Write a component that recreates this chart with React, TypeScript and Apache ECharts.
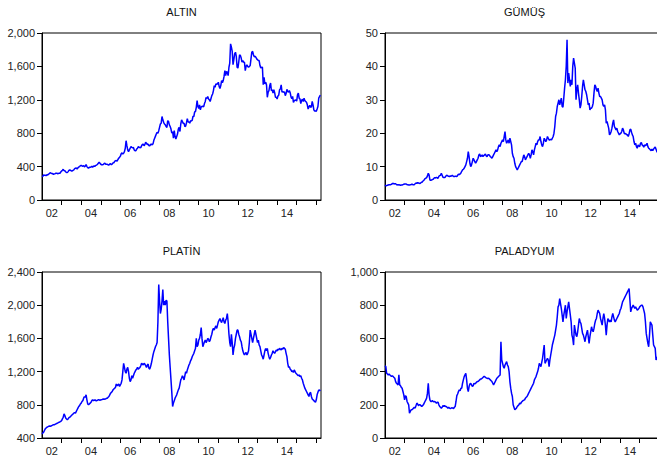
import React, { useEffect, useRef } from "react";
import * as echarts from "echarts";

const START_YEAR = 2002;
const OBS_PER_YEAR = 24;

const ALTIN = [
  279, 284, 299, 297, 296, 292, 302, 300, 310, 316, 326, 321, 316, 318, 305, 313, 315, 320, 322, 315, 318, 320, 320, 335,
  346, 356, 368, 352, 350, 336, 330, 328, 340, 356, 362, 355, 348, 348, 355, 360, 375, 380, 385, 372, 385, 395, 400, 410,
  415, 408, 405, 412, 398, 405, 425, 400, 388, 380, 393, 392, 395, 405, 392, 405, 408, 405, 415, 418, 428, 440, 452, 440,
  428, 422, 422, 425, 435, 442, 428, 428, 428, 420, 420, 432, 435, 422, 432, 445, 445, 462, 470, 472, 465, 485, 500, 512,
  525, 555, 565, 550, 560, 580, 620, 710, 650, 600, 580, 600, 620, 640, 630, 625, 630, 600, 590, 590, 610, 620, 640, 630,
  630, 625, 650, 665, 670, 650, 665, 690, 680, 665, 670, 650, 650, 665, 670, 660, 672, 715, 740, 765, 790, 810, 800, 830,
  870, 910, 920, 1000, 960, 930, 910, 900, 880, 870, 950, 940, 900, 880, 850, 800, 820, 740, 830, 760, 730, 760, 790, 850,
  870, 820, 910, 960, 940, 915, 920, 880, 885, 925, 975, 935, 935, 920, 950, 945, 955, 1005, 1000, 1055, 1060, 1110, 1190, 1120,
  1095, 1140, 1080, 1115, 1120, 1125, 1115, 1155, 1180, 1230, 1215, 1240, 1210, 1200, 1180, 1215, 1250, 1270, 1310, 1370, 1350, 1390, 1385, 1390,
  1410, 1360, 1335, 1370, 1430, 1405, 1430, 1480, 1550, 1490, 1540, 1530, 1490, 1590, 1640, 1870, 1830, 1780, 1620, 1680, 1750, 1770, 1720, 1590,
  1580, 1650, 1740, 1730, 1700, 1650, 1670, 1650, 1650, 1550, 1600, 1620, 1600, 1590, 1600, 1610, 1690, 1770, 1780, 1740, 1715, 1720, 1710, 1690,
  1680, 1670, 1670, 1610, 1580, 1590, 1590, 1380, 1470, 1390, 1410, 1380, 1230, 1290, 1310, 1370, 1400, 1310, 1320, 1280, 1320, 1285, 1230, 1230,
  1210, 1245, 1255, 1320, 1330, 1380, 1290, 1300, 1290, 1295, 1250, 1275, 1325, 1300, 1290, 1310, 1285, 1235, 1215, 1240, 1170, 1190, 1195, 1200,
  1185, 1260, 1280, 1220, 1210, 1155, 1195, 1205, 1180, 1220, 1190, 1180, 1170, 1140, 1090, 1115, 1135, 1110, 1115, 1180, 1140, 1080, 1065, 1065,
  1062, 1090, 1120, 1220, 1240, 1255,
];

const GUMUS = [
  4.5, 4.3, 4.3, 4.4, 4.5, 4.6, 4.6, 4.6, 4.7, 4.9, 5.0, 4.8, 4.9, 4.9, 4.6, 4.6, 4.5, 4.6, 4.5, 4.4, 4.5, 4.5, 4.6, 4.7,
  4.8, 4.8, 4.8, 4.6, 4.6, 4.5, 4.5, 4.6, 4.6, 4.8, 4.6, 4.6, 4.6, 4.9, 5.1, 5.0, 5.2, 5.1, 5.0, 4.9, 5.2, 5.3, 5.5, 5.8,
  6.0, 6.4, 6.5, 6.7, 7.2, 8.0, 7.5, 6.0, 5.9, 6.0, 6.1, 6.2, 6.5, 6.7, 6.6, 6.8, 6.6, 6.5, 7.1, 7.3, 7.4, 8.0, 7.4, 6.8,
  6.7, 6.7, 6.9, 7.3, 7.4, 7.2, 7.1, 7.0, 7.2, 7.1, 7.3, 7.3, 7.0, 7.0, 7.1, 7.1, 7.0, 7.4, 7.7, 7.6, 7.8, 8.1, 8.6, 9.0,
  9.2, 9.5, 10.0, 10.5, 11.5, 12.5, 14.5, 13.0, 11.0, 10.0, 10.5, 11.5, 12.5, 12.0, 11.5, 11.0, 11.5, 12.0, 12.5, 13.5, 13.8, 13.0, 13.2, 13.5,
  13.0, 13.3, 13.5, 13.8, 13.2, 13.0, 13.5, 13.6, 13.3, 13.0, 12.8, 12.5, 13.0, 13.5, 14.0, 14.5, 15.0, 14.5, 15.0, 16.0, 16.5, 16.0, 17.0, 17.5,
  18.0, 17.5, 19.0, 20.5, 18.0, 17.0, 17.5, 18.0, 17.0, 18.5, 17.5, 16.5, 14.0, 13.0, 12.5, 11.0, 10.0, 9.5, 9.0, 9.5, 10.0, 10.5, 11.0, 11.5,
  11.5, 12.5, 13.5, 13.0, 12.0, 12.5, 13.0, 13.5, 14.0, 13.5, 12.5, 13.5, 15.0, 14.5, 13.5, 15.0, 16.0, 17.0, 16.5, 17.5, 18.0, 18.0, 19.0, 17.5,
  16.5, 16.0, 17.0, 18.5, 18.0, 17.5, 18.0, 19.0, 18.5, 18.0, 18.0, 18.2, 18.0, 18.5, 19.0, 20.0, 22.0, 25.0, 26.0, 28.0, 29.0, 30.0, 28.5, 29.5,
  30.5, 28.0, 27.8, 30.5, 33.5, 36.0, 40.0, 48.0, 35.0, 38.0, 36.0, 34.0, 36.0, 34.5, 40.0, 42.5, 41.0, 39.5, 30.0, 33.0, 34.5, 32.0, 30.0, 27.5,
  28.5, 31.0, 34.0, 36.0, 34.5, 33.0, 32.5, 31.5, 30.0, 28.5, 29.0, 27.0, 27.5, 27.5, 28.0, 29.0, 32.0, 34.5, 34.0, 33.0, 32.5, 33.5, 32.0, 31.0,
  31.0, 30.5, 30.0, 28.5, 28.0, 28.5, 27.0, 23.0, 23.5, 22.5, 21.5, 19.5, 19.8, 20.5, 21.5, 23.0, 24.0, 22.0, 21.5, 21.0, 21.5, 20.5, 20.0, 19.5,
  19.8, 20.0, 20.5, 21.5, 21.0, 20.0, 19.8, 19.9, 19.5, 19.5, 19.0, 19.8, 21.0, 21.2, 20.3, 19.5, 19.0, 17.5, 16.5, 17.0, 16.0, 15.5, 16.5, 16.2,
  16.0, 17.0, 17.2, 16.5, 16.3, 15.8, 16.5, 16.3, 16.5, 17.0, 16.0, 15.5, 15.3, 15.0, 14.8, 15.2, 14.8, 15.2, 15.6, 15.9, 15.2, 14.5, 14.2, 14.0,
  14.0, 14.2, 14.4, 15.3, 15.2, 15.6,
];

const PLATIN = [
  450, 460, 470, 490, 510, 520, 530, 535, 540, 545, 540, 545, 550, 555, 560, 560, 565, 570, 575, 580, 585, 590, 595, 600,
  610, 630, 650, 690, 670, 640, 630, 620, 630, 645, 650, 660, 670, 680, 690, 700, 705, 700, 720, 740, 760, 780, 790, 810,
  820, 840, 850, 880, 900, 890, 920, 860, 810, 800, 810, 820, 830, 850, 860, 850, 855, 860, 850, 850, 855, 860, 860, 855,
  860, 860, 865, 870, 865, 870, 870, 880, 880, 890, 900, 920, 940, 950, 960, 980, 990, 1000, 1010, 1050, 1030, 1040, 1050, 1020,
  1040, 1060, 1100, 1200, 1300, 1250, 1200, 1180, 1230, 1250, 1200, 1120, 1080, 1100, 1150, 1120, 1150, 1180, 1200, 1220, 1230, 1250, 1230, 1240,
  1250, 1270, 1300, 1290, 1280, 1300, 1290, 1270, 1250, 1280, 1290, 1240, 1230, 1260, 1300, 1350, 1400, 1440, 1470, 1500, 1520, 1550, 1800, 2250,
  2050, 1900, 1950, 2050, 2190, 2000, 2050, 2000, 2060, 2050, 1800, 1600, 1400, 1250, 1100, 950, 780, 820, 850, 880, 900, 920, 950, 980,
  1000, 1050, 1100, 1120, 1150, 1130, 1100, 1150, 1200, 1180, 1220, 1250, 1280, 1300, 1330, 1350, 1380, 1400, 1420, 1450, 1480, 1600, 1500, 1520,
  1580, 1600, 1650, 1730, 1600, 1500, 1530, 1560, 1580, 1550, 1570, 1600, 1590, 1560, 1580, 1620, 1650, 1700, 1720, 1700, 1730, 1750, 1720, 1760,
  1800, 1820, 1840, 1810, 1790, 1820, 1850, 1800, 1780, 1820, 1840, 1900, 1800, 1650, 1550, 1500, 1650, 1550, 1400, 1480, 1520, 1600, 1650, 1700,
  1700, 1650, 1620, 1580, 1560, 1500, 1450, 1420, 1400, 1420, 1430, 1400, 1420, 1450, 1550, 1700, 1650, 1600, 1550, 1600, 1650, 1700, 1650, 1600,
  1550, 1580, 1520, 1500, 1450, 1400, 1380, 1350, 1400, 1450, 1480, 1450, 1480, 1420, 1380, 1350, 1370, 1400, 1420, 1450, 1430, 1420, 1440, 1460,
  1450, 1470, 1460, 1480, 1470, 1460, 1480, 1470, 1490, 1480, 1470, 1420, 1380, 1300, 1250, 1260, 1230, 1220, 1200, 1210, 1190, 1220, 1200, 1180,
  1170, 1160, 1150, 1160, 1140, 1150, 1120, 1100, 1060, 1030, 1000, 980, 960, 940, 920, 900, 940, 950, 900, 870, 860, 850, 840, 830,
  860, 920, 950, 980, 970, 980,
];

const PALADYUM = [
  435, 430, 390, 385, 380, 385, 380, 375, 370, 375, 370, 365, 360, 340, 330, 325, 320, 380, 320, 315, 305, 300, 280, 260,
  230, 255, 250, 220, 210, 200, 150, 160, 170, 170, 175, 180, 185, 180, 195, 210, 205, 195, 200, 200, 195, 190, 195, 200,
  210, 220, 230, 240, 270, 330, 260, 230, 220, 220, 225, 220, 218, 220, 215, 210, 215, 215, 200, 190, 185, 180, 185, 195,
  190, 195, 190, 190, 185, 180, 185, 180, 178, 180, 182, 180, 178, 185, 190, 220, 255, 265, 280, 290, 285, 300, 300, 330,
  350, 370, 380, 390, 350, 300, 280, 310, 325, 330, 320, 310, 315, 330, 325, 330, 335, 340, 340, 345, 350, 355, 355, 360,
  365, 370, 370, 365, 362, 360, 358, 360, 355, 350, 345, 340, 330, 320, 330, 340, 350, 360, 365, 370, 375, 380, 580, 470,
  450, 430, 420, 440, 450, 460, 440, 430, 400, 340, 300, 270, 250, 200, 185, 170, 175, 180, 190, 195, 200, 210, 205, 215,
  220, 225, 228, 230, 240, 245, 250, 260, 270, 280, 290, 300, 310, 320, 330, 350, 360, 370, 385, 400, 420, 450, 440, 430,
  455, 480, 520, 560, 450, 460, 470, 480, 470, 430, 470, 500, 530, 560, 580, 600, 620, 650, 680, 730, 790, 800, 840, 810,
  780, 740, 700, 740, 770, 800, 720, 760, 790, 820, 780, 740, 700, 620, 600, 560, 680, 650, 620, 610, 640, 680, 720, 700,
  690, 660, 630, 620, 600, 580, 610, 630, 650, 610, 570, 610, 640, 670, 650, 640, 660, 690, 710, 720, 750, 770, 760, 750,
  720, 700, 680, 720, 750, 720, 680, 620, 680, 720, 710, 700, 710, 700, 730, 750, 730, 710, 700, 710, 720, 730, 740, 750,
  770, 780, 800, 820, 830, 840, 850, 860, 870, 880, 890, 900, 830, 760, 780, 790, 800, 790, 780, 790, 780, 770, 775, 780,
  790, 795, 800, 800, 790, 770, 750, 700, 630, 600, 570, 550, 620, 700, 690, 680, 620, 560, 550, 540, 470, 480, 490, 470,
  480, 500, 490, 510, 530, 550,
];

const X_TICK_YEARS = [2003, 2004, 2005, 2006, 2007, 2008, 2009, 2010, 2011, 2012, 2013, 2014, 2015, 2016];
const X_LABEL_YEARS = [2002, 2004, 2006, 2008, 2010, 2012, 2014];
const X_MAX = 2016.24;

const PANELS = [
  { title: "ALTIN", values: ALTIN, yMin: 0, yMax: 2000, yStep: 400 },
  { title: "GÜMÜŞ", values: GUMUS, yMin: 0, yMax: 50, yStep: 10 },
  { title: "PLATİN", values: PLATIN, yMin: 400, yMax: 2400, yStep: 400 },
  { title: "PALADYUM", values: PALADYUM, yMin: 0, yMax: 1000, yStep: 200 },
];

const FONT = "'Liberation Sans', Arial, Helvetica, sans-serif";
const GRIDS = [
  { left: 42, top: 33, width: 279, height: 167 },
  { left: 385, top: 33, width: 279, height: 167 },
  { left: 42, top: 272, width: 279, height: 167 },
  { left: 385, top: 272, width: 279, height: 167 },
];
const TITLE_Y = [12, 12, 251, 251];
// chart canvas is wider than the window so the right-hand panels run past the visible edge
const CANVAS_W = 680;
const VIEW_W = 657;
const VIEW_H = 456;

export default function App() {
  const ref = useRef<HTMLDivElement>(null);
  useEffect(() => {
    if (!ref.current) return;
    const chart = echarts.init(ref.current, undefined, { renderer: "svg" });
    const fmt = (v: number) => v.toLocaleString("en-US");
    const option: any = {
      animation: false,
      backgroundColor: "#fff",
      grid: GRIDS.map((g) => ({ ...g, show: true, borderColor: "#000", borderWidth: 1, backgroundColor: "transparent" })),
      xAxis: GRIDS.map((_, i) => ({
        type: "value",
        gridIndex: i,
        min: START_YEAR,
        max: X_MAX,
        axisLine: { show: true, lineStyle: { color: "#000", width: 1 } },
        axisTick: { show: true, length: 5, lineStyle: { color: "#000" }, customValues: X_TICK_YEARS },
        axisLabel: {
          show: true,
          margin: 7,
          fontSize: 11,
          fontFamily: FONT,
          color: "#222",
          customValues: X_LABEL_YEARS.map((y) => y + 0.5),
          formatter: (v: number) => String(Math.floor(v) % 100).padStart(2, "0"),
        },
        splitLine: { show: false },
      })),
      yAxis: PANELS.map((p, i) => ({
        type: "value",
        gridIndex: i,
        min: p.yMin,
        max: p.yMax,
        interval: p.yStep,
        axisLine: { show: true, lineStyle: { color: "#000", width: 1 } },
        axisTick: { show: true, length: 5, lineStyle: { color: "#000" } },
        axisLabel: { margin: 7, fontSize: 11, fontFamily: FONT, color: "#222", formatter: fmt },
        splitLine: { show: false },
      })),
      series: PANELS.map((p, i) => ({
        type: "line",
        xAxisIndex: i,
        yAxisIndex: i,
        showSymbol: false,
        symbol: "none",
        lineStyle: { color: "#0000ff", width: 1.5 },
        data: p.values.map((v, k) => [START_YEAR + k / OBS_PER_YEAR, v]),
      })),
      graphic: PANELS.map((p, i) => ({
        type: "text",
        x: GRIDS[i].left + GRIDS[i].width / 2,
        y: TITLE_Y[i],
        style: {
          text: p.title,
          align: "center",
          verticalAlign: "middle",
          fontSize: 11,
          fontFamily: FONT,
          fill: "#111",
        },
      })),
    };
    chart.setOption(option);
    return () => chart.dispose();
  }, []);
  return (
    <div
      style={{ position: "absolute", left: 0, top: 0, width: VIEW_W, height: VIEW_H, overflow: "hidden", background: "#fff" }}
    >
      <div ref={ref} style={{ width: CANVAS_W, height: VIEW_H }} />
    </div>
  );
}
